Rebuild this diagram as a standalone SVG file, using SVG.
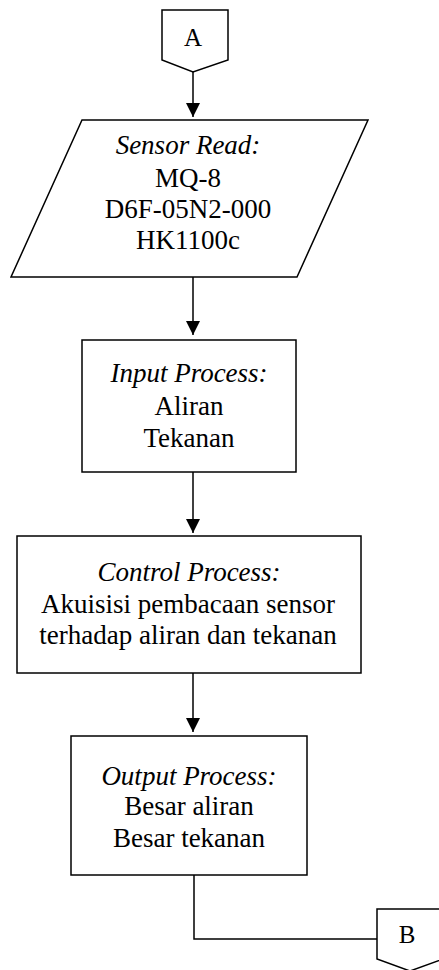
<svg xmlns="http://www.w3.org/2000/svg" width="439" height="970" viewBox="0 0 439 970">
<style>
.s{fill:#fff;stroke:#000;stroke-width:1.5}
.t{font-family:'Liberation Serif',serif;font-size:27px;fill:#000;text-anchor:middle}
.i{font-style:italic}
.c{fill:none;stroke:#000;stroke-width:1.5}
</style>
<defs>
<marker id="ah" markerUnits="userSpaceOnUse" markerWidth="14" markerHeight="14" viewBox="0 0 14 14" refX="14" refY="7" orient="auto">
<path d="M0,0 L14,7 L0,14 Z" fill="#000"/>
</marker>
</defs>
<rect width="439" height="970" fill="#fff"/>
<g id="connectors">
<path class="c" d="M193,72 V117" marker-end="url(#ah)"/>
<path class="c" d="M193,277 V335" marker-end="url(#ah)"/>
<path class="c" d="M193,472 V533" marker-end="url(#ah)"/>
<path class="c" d="M193,673 V732" marker-end="url(#ah)"/>
<path class="c" d="M194,875 V939 H377"/>
</g>
<g id="connA">
<path class="s" d="M162,10 H228 V60 L193,72 L162,60 Z"/>
<text class="t" x="193" y="46" style="font-size:25px">A</text>
</g>
<g id="sensorRead">
<path class="s" d="M82,120 H368 L297,277 H11 Z"/>
<text class="t i" x="188" y="154">Sensor Read:</text>
<text class="t" x="188" y="187">MQ-8</text>
<text class="t" x="188" y="218">D6F-05N2-000</text>
<text class="t" x="188" y="249">HK1100c</text>
</g>
<g id="inputProcess">
<rect class="s" x="82" y="340" width="214" height="132"/>
<text class="t i" x="189" y="382">Input Process:</text>
<text class="t" x="189" y="415">Aliran</text>
<text class="t" x="189" y="447">Tekanan</text>
</g>
<g id="controlProcess">
<rect class="s" x="17" y="536" width="344" height="137"/>
<text class="t i" x="189" y="581">Control Process:</text>
<text class="t" x="188" y="613">Akuisisi pembacaan sensor</text>
<text class="t" x="188" y="644">terhadap aliran dan tekanan</text>
</g>
<g id="outputProcess">
<rect class="s" x="71" y="736" width="236" height="139"/>
<text class="t i" x="189" y="785">Output Process:</text>
<text class="t" x="189" y="815">Besar aliran</text>
<text class="t" x="189" y="847">Besar tekanan</text>
</g>
<g id="connB">
<path class="s" d="M377,909 H443 V959 L410,971 L377,959 Z"/>
<text class="t" x="407" y="943" style="font-size:25px">B</text>
</g>
</svg>
